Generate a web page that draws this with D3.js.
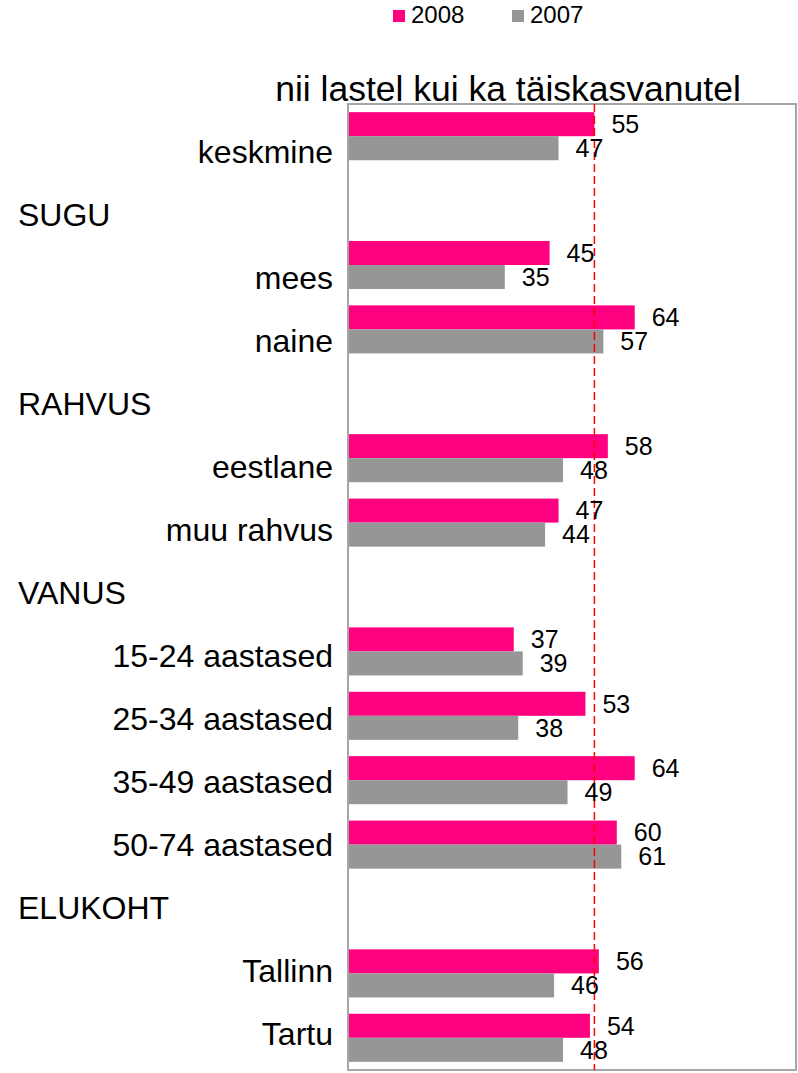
<!DOCTYPE html>
<html>
<head>
    <meta charset="utf-8">
    <title>nii lastel kui ka täiskasvanutel</title>
    <script src="https://d3js.org/d3.v7.min.js"></script>
    <style>
        body { margin: 0; background: #fff; }
        text { font-family: "Liberation Sans", Arial, sans-serif; fill: #000; }
    </style>
</head>
<body>
<div id="chart"></div>
<script>
    // data
    const categories = ["keskmine", "SUGU", "mees", "naine", "RAHVUS", "eestlane", "muu rahvus",
        "VANUS", "15-24 aastased", "25-34 aastased", "35-49 aastased", "50-74 aastased",
        "ELUKOHT", "Tallinn", "Tartu"];
    const headers = ["SUGU", "RAHVUS", "VANUS", "ELUKOHT"];
    const series = ["2008", "2007"];
    const values2008 = [55, null, 45, 64, null, 58, 47, null, 37, 53, 64, 60, null, 56, 54];
    const values2007 = [47, null, 35, 57, null, 48, 44, null, 39, 38, 49, 61, null, 46, 48];
    const average = 55;
    const title = "nii lastel kui ka täiskasvanutel";

    const width = 798;
    const height = 1073;
    const plot = { left: 348, right: 796, top: 104, bottom: 1070 };
    const colors = { "2008": "#ff0080", "2007": "#969696" };

    const svg = d3.select("#chart")
        .append("svg")
        .attr("width", width)
        .attr("height", height);

    const x = d3.scaleLinear()
        .domain([0, 100])
        .range([plot.left, plot.right]);

    const y = d3.scaleBand()
        .domain(categories)
        .range([plot.top, plot.bottom]);

    const ySub = d3.scaleBand()
        .domain(series)
        .range([0, y.bandwidth()])
        .paddingOuter(0.34);

    // category labels sit on their own slightly tighter spacing
    const yLabel = d3.scalePoint()
        .domain(categories)
        .range([163, 1045]);

    // title
    svg.append("text")
        .attr("x", 508)
        .attr("y", 101)
        .attr("text-anchor", "middle")
        .style("font-size", "35.5px")
        .text(title);

    // legend
    const legendX = [393, 512];
    series.forEach((s, i) => {
        svg.append("rect")
            .attr("x", legendX[i])
            .attr("y", 10)
            .attr("width", 12)
            .attr("height", 12)
            .attr("fill", colors[s]);
        svg.append("text")
            .attr("x", legendX[i] + 18)
            .attr("y", 23)
            .style("font-size", "24px")
            .text(s);
    });

    // rows
    const rows = categories.map((c, i) => ({ cat: c, "2008": values2008[i], "2007": values2007[i] }));

    const bars = [];
    rows.forEach(r => series.forEach(s => {
        if (r[s] != null) bars.push({ cat: r.cat, key: s, value: r[s] });
    }));

    svg.selectAll("rect.bar")
        .data(bars)
        .join("rect")
        .attr("class", "bar")
        .attr("x", x(0))
        .attr("y", d => y(d.cat) + ySub(d.key))
        .attr("width", d => x(d.value) - x(0))
        .attr("height", ySub.bandwidth())
        .attr("fill", d => colors[d.key]);

    // plot border
    svg.append("rect")
        .attr("x", plot.left)
        .attr("y", plot.top)
        .attr("width", plot.right - plot.left)
        .attr("height", plot.bottom - plot.top)
        .attr("fill", "none")
        .attr("stroke", "#a6a6a6")
        .attr("stroke-width", 2);

    // average line
    svg.append("line")
        .attr("x1", x(average))
        .attr("x2", x(average))
        .attr("y1", plot.top)
        .attr("y2", plot.bottom)
        .attr("stroke", "#ff0000")
        .attr("stroke-width", 1.5)
        .attr("stroke-dasharray", "8,4");

    // value labels
    svg.selectAll("text.value")
        .data(bars)
        .join("text")
        .attr("class", "value")
        .attr("x", d => x(d.value) + 17)
        .attr("y", d => y(d.cat) + ySub(d.key) + ySub.bandwidth() / 2)
        .attr("dy", "0.35em")
        .style("font-size", "25px")
        .text(d => d.value);

    // category labels
    svg.selectAll("text.cat")
        .data(categories)
        .join("text")
        .attr("class", "cat")
        .attr("x", d => headers.includes(d) ? 18 : 333)
        .attr("y", d => yLabel(d))
        .attr("text-anchor", d => headers.includes(d) ? "start" : "end")
        .style("font-size", "32px")
        .text(d => d);
</script>
</body>
</html>
